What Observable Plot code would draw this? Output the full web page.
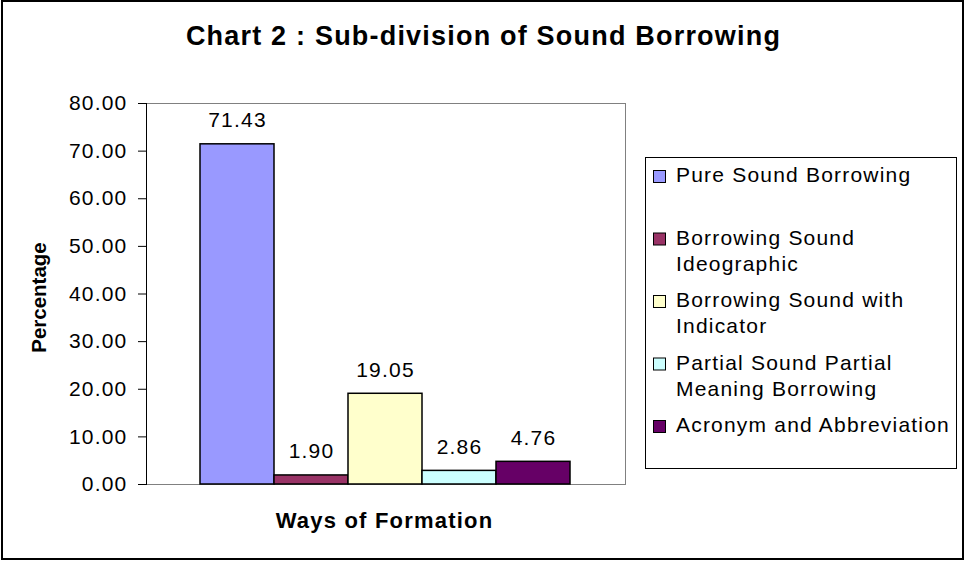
<!DOCTYPE html>
<html>
<head>
<meta charset="utf-8">
<script src="https://cdn.jsdelivr.net/npm/d3@7"></script>
<script src="https://cdn.jsdelivr.net/npm/@observablehq/plot@0.6"></script>
<style>
  body { margin: 0; background: #fff; }
  #chart { position: relative; width: 966px; height: 562px; overflow: hidden; background: #fff; }
  #chart .border { position: absolute; left: 1px; top: 0; width: 963px; height: 560px; box-sizing: border-box; border: 2px solid #000; pointer-events: none; }
  #chart svg { display: block; }
  #chart svg text { letter-spacing: 1.2px; }
</style>
</head>
<body>
<div id="chart"><div class="border"></div></div>
<script>
// Ways of formation and their share (%)
const categories = [
  "Pure Sound Borrowing",
  "Borrowing Sound Ideographic",
  "Borrowing Sound with Indicator",
  "Partial Sound Partial Meaning Borrowing",
  "Acronym and Abbreviation"
];
const values = [71.43, 1.90, 19.05, 2.86, 4.76];
const colors = ["#9999FF", "#993366", "#FFFFCC", "#CCFFFF", "#660066"];
// Legend entries wrapped onto lines
const legendLines = [
  ["Pure Sound Borrowing"],
  ["Borrowing Sound", "Ideographic"],
  ["Borrowing Sound with", "Indicator"],
  ["Partial Sound Partial", "Meaning Borrowing"],
  ["Acronym and Abbreviation"]
];
const yTicks = [0, 10, 20, 30, 40, 50, 60, 70, 80];
const title = "Chart 2 : Sub-division of Sound Borrowing";
const xTitle = "Ways of Formation";
const yTitle = "Percentage";

const data = categories.map((name, i) => ({name, value: values[i]}));
const font = "'Liberation Sans', Arial, Helvetica, sans-serif";
const fmt = d3.format(".2f");

const plot = Plot.plot({
  width: 966,
  height: 562,
  marginLeft: 146,
  marginRight: 341,
  marginTop: 103,
  marginBottom: 78,
  style: {fontFamily: font, color: "#000", background: "transparent", overflow: "visible"},
  x: {domain: categories, range: [200, 570], padding: 0, axis: null},
  y: {domain: [0, 80], axis: null},
  color: {domain: categories, range: colors},
  marks: [
    Plot.frame({stroke: "#808080"}),
    Plot.barY(data, {x: "name", y: "value", fill: "name", stroke: "#000", strokeWidth: 1.5}),
    Plot.frame({anchor: "left", stroke: "#000"}),
    Plot.axisY(yTicks, {
      tickSize: 8, tickPadding: 11, tickFormat: fmt, fontSize: 21, label: null, stroke: "#000"
    }),
    Plot.text(data, {
      x: "name", y: "value", text: d => fmt(d.value),
      dy: -17, lineAnchor: "bottom", fontSize: 21, fill: "#000"
    }),
    Plot.text([title], {
      text: d => d, frameAnchor: "top", textAnchor: "middle", dx: 97.5, dy: -59, lineAnchor: "bottom",
      fontSize: 27, fontWeight: "bold", fill: "#000"
    }),
    Plot.text([xTitle], {
      text: d => d, frameAnchor: "bottom", textAnchor: "middle", dx: -1.5, dy: 43, lineAnchor: "bottom",
      fontSize: 22, fontWeight: "bold", fill: "#000"
    }),
    Plot.text([yTitle], {
      text: d => d, frameAnchor: "left", textAnchor: "middle", dx: -107, dy: 3.5, rotate: -90,
      lineAnchor: "middle", fontSize: 20.5, fontWeight: "bold", fill: "#000"
    })
  ]
});

// Vertical axis title is not letter-spaced
d3.select(plot).selectAll("text").filter(function () { return this.textContent === yTitle; })
  .style("letter-spacing", "0px");

// Legend box at the right of the plot area
const svg = d3.select(plot);
const legend = svg.append("g")
  .attr("font-family", font)
  .attr("font-size", 21)
  .attr("text-anchor", "start")
  .attr("fill", "#000");
legend.append("rect")
  .attr("x", 645.5).attr("y", 157.5)
  .attr("width", 311).attr("height", 311)
  .attr("fill", "#fff").attr("stroke", "#000");
legendLines.forEach((lines, i) => {
  const base = 182 + i * 62.5;
  legend.append("rect")
    .attr("x", 653.5).attr("y", base - 11.5)
    .attr("width", 12).attr("height", 12)
    .attr("fill", colors[i]).attr("stroke", "#000");
  const t = legend.append("text").attr("x", 676).attr("y", base);
  lines.forEach((line, j) => {
    t.append("tspan").attr("x", 676).attr("dy", j === 0 ? 0 : 26).text(line);
  });
});

document.getElementById("chart").prepend(plot);
</script>
</body>
</html>
